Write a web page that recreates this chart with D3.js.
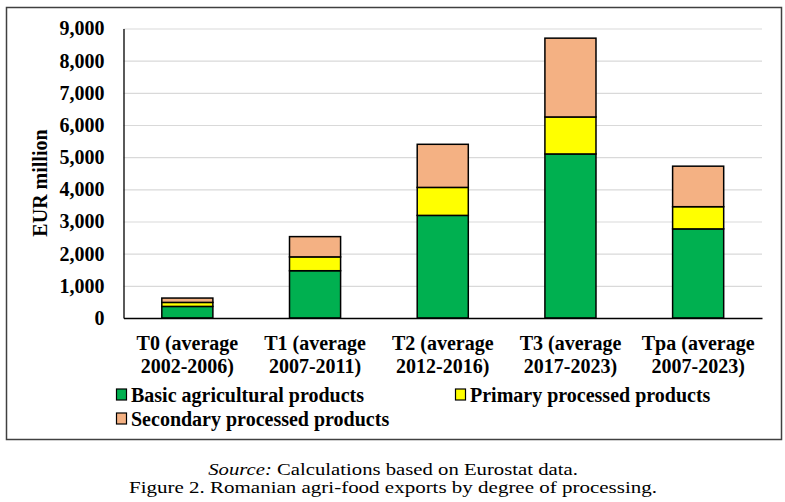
<!DOCTYPE html>
<html>
<head>
<meta charset="utf-8">
<script src="https://cdn.jsdelivr.net/npm/d3@7"></script>
<style>
  body { margin: 0; background: #fff; }
  svg text { font-family: "Liberation Serif", "Times New Roman", serif; fill: #000; }
  .tick text { font-size: 20px; font-weight: bold; }
  .grid line { stroke: #d9d9d9; stroke-width: 1.2; }
  .grid path { stroke: none; }
  .bar rect { stroke: #000; stroke-width: 1.5; }
</style>
</head>
<body>
<div id="chart"></div>
<script>
// Romanian agri-food exports by degree of processing (EUR million)
var periods = ["T0 (average|2002-2006)", "T1 (average|2007-2011)", "T2 (average|2012-2016)",
               "T3 (average|2017-2023)", "Tpa (average|2007-2023)"];
var basic     = [360, 1470, 3190, 5100, 2770];
var primary   = [125, 430, 870, 1150, 690];
var secondary = [135, 630, 1340, 2450, 1260];
var seriesNames = ["Basic agricultural products", "Primary processed products", "Secondary processed products"];
var seriesColors = ["#00b050", "#ffff00", "#f4b183"];
var yTicks = [0, 1000, 2000, 3000, 4000, 5000, 6000, 7000, 8000, 9000];

var width = 785, height = 502;
var margin = {left: 123.5, top: 28.5, right: 23, bottom: 184};
var innerW = width - margin.left - margin.right;
var innerH = height - margin.top - margin.bottom;

var svg = d3.select("#chart").append("svg")
    .attr("width", width)
    .attr("height", height);

// outer frame
svg.append("rect")
    .attr("x", 6.5).attr("y", 7.5)
    .attr("width", 775).attr("height", 432)
    .attr("fill", "#fff")
    .attr("stroke", "#404040")
    .attr("stroke-width", 1.5);

var g = svg.append("g").attr("transform", "translate(" + margin.left + "," + margin.top + ")");

var x = d3.scaleBand().domain(periods).range([0, innerW]).paddingInner(0.6).paddingOuter(0.3);
var y = d3.scaleLinear().domain([0, 9000]).range([innerH, 0]);

// gridlines
g.append("g")
    .attr("class", "grid")
    .call(d3.axisLeft(y).tickValues(yTicks.slice(1)).tickSize(-innerW).tickFormat(""));

// stacked data
var rows = periods.map(function (p, i) {
    return {period: p, s0: basic[i], s1: primary[i], s2: secondary[i]};
});
var stack = d3.stack().keys(["s0", "s1", "s2"])(rows);

g.selectAll(".bar")
    .data(stack)
    .enter()
    .append("g")
    .attr("class", "bar")
    .attr("fill", function (d, i) { return seriesColors[i]; })
    .selectAll("rect")
    .data(function (d) { return d; })
    .enter()
    .append("rect")
    .attr("x", function (d) { return x(d.data.period); })
    .attr("width", x.bandwidth())
    .attr("y", function (d) { return y(d[1]); })
    .attr("height", function (d) { return y(d[0]) - y(d[1]); });

// y axis
var yAxis = g.append("g")
    .call(d3.axisLeft(y).tickValues(yTicks).tickSize(0).tickPadding(19).tickFormat(d3.format(",")));
yAxis.select(".domain").attr("stroke", "#000").attr("stroke-width", 1.3);

// x axis
var xAxis = g.append("g")
    .attr("transform", "translate(0," + innerH + ")")
    .call(d3.axisBottom(x).tickSize(0).tickFormat(""));
xAxis.select(".domain").attr("stroke", "#000").attr("stroke-width", 1.3);

xAxis.selectAll(".tick").each(function (d) {
    var parts = d.split("|");
    var t = d3.select(this).append("text")
        .attr("text-anchor", "middle")
        .style("font-size", "20px")
        .style("font-weight", "bold");
    t.append("tspan").attr("x", 0).attr("y", 32).text(parts[0]);
    t.append("tspan").attr("x", 0).attr("y", 55).text(parts[1]);
});

// y label
svg.append("text")
    .attr("transform", "translate(47,183) rotate(-90)")
    .attr("text-anchor", "middle")
    .style("font-size", "20px")
    .style("font-weight", "bold")
    .text("EUR million");

// legend
var legendPos = [[116, 402], [455, 402], [116, 426]];
var legend = svg.selectAll(".legend")
    .data(seriesNames)
    .enter()
    .append("g")
    .attr("class", "legend")
    .attr("transform", function (d, i) { return "translate(" + legendPos[i][0] + "," + legendPos[i][1] + ")"; });

legend.append("rect")
    .attr("x", 0.5).attr("y", -13)
    .attr("width", 10).attr("height", 11)
    .attr("fill", function (d, i) { return seriesColors[i]; })
    .attr("stroke", "#000")
    .attr("stroke-width", 1.2);

legend.append("text")
    .attr("x", 15)
    .attr("y", 0)
    .style("font-size", "20px")
    .style("font-weight", "bold")
    .text(function (d) { return d; });

// caption: the original is stretched sideways, so scale each line to its width
function caption(yPos, targetW, build) {
    var cg = svg.append("g");
    var t = cg.append("text")
        .attr("x", 0).attr("y", 0)
        .attr("text-anchor", "middle")
        .style("font-size", "16px");
    build(t);
    var w = t.node().getComputedTextLength();
    cg.attr("transform", "translate(393," + yPos + ") scale(" + (targetW / w) + ",1)");
}
caption(475, 370, function (t) {
    t.append("tspan").style("font-style", "italic").text("Source:");
    t.append("tspan").text(" Calculations based on Eurostat data.");
});
caption(493, 528, function (t) {
    t.text("Figure 2. Romanian agri-food exports by degree of processing.");
});
</script>
</body>
</html>
